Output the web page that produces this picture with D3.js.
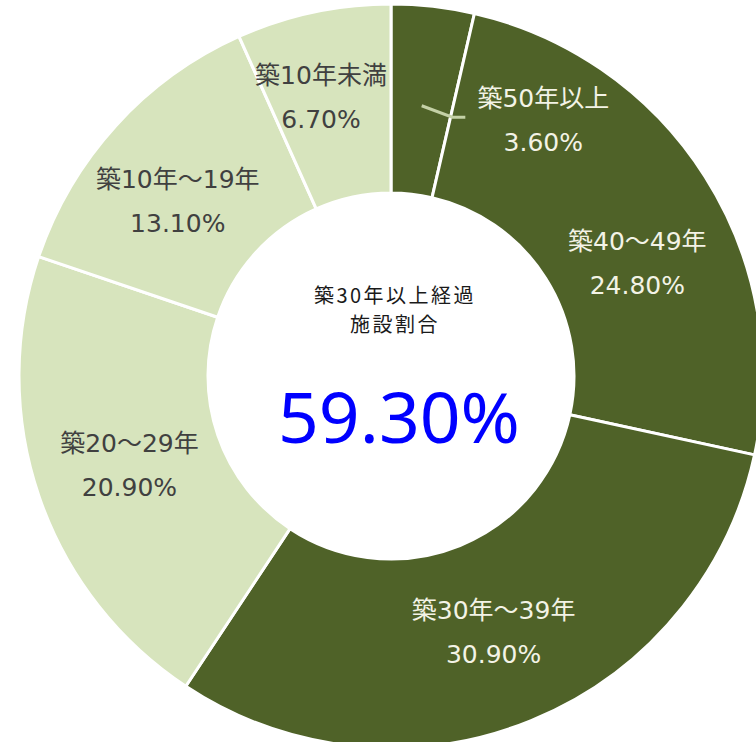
<!DOCTYPE html>
<html>
<head>
<meta charset="utf-8">
<script src="https://cdn.jsdelivr.net/npm/d3@7"></script>
<style>
  html, body { margin: 0; padding: 0; background: #fff; overflow: hidden; }
</style>
</head>
<body>
<script>
const WIDTH = 756;
const HEIGHT = 742;
const CX = 391;
const CY = 376;
const OUTER = 372;
const INNER = 183;

// data
const categories = ['築50年以上', '築40～49年', '築30年～39年', '築20～29年', '築10年～19年', '築10年未満'];
const values = [3.6, 24.8, 30.9, 20.9, 13.1, 6.7];
const groups = ['30年以上', '30年以上', '30年以上', '30年未満', '30年未満', '30年未満'];
const centerTitle = ['築30年以上経過', '施設割合'];

// label nudges from the centroid, like Excel's best-fit placement
const nudges = [[121, 20], [12, 36], [-2, -1], [1, 0], [-8, 12], [-12, -7]];

const color = d3.scaleOrdinal()
    .domain(['30年以上', '30年未満'])
    .range(['#4f6228', '#d7e4bd']);
const textColor = d3.scaleOrdinal()
    .domain(['30年以上', '30年未満'])
    .range(['#f3f3e6', '#404040']);

const rows = categories.map((c, i) => ({ name: c, value: values[i], group: groups[i], nudge: nudges[i] }));

const svg = d3.select('body')
    .append('svg')
    .attr('width', WIDTH)
    .attr('height', HEIGHT);

const g = svg.append('g')
    .attr('transform', `translate(${CX}, ${CY})`);

const pie = d3.pie()
    .sort(null)
    .value(d => d.value);

const arc = d3.arc()
    .innerRadius(INNER)
    .outerRadius(OUTER);

const arcs = pie(rows);

g.selectAll('path.slice')
    .data(arcs)
    .join('path')
    .attr('class', 'slice')
    .attr('d', arc)
    .attr('fill', d => color(d.data.group))
    .attr('stroke', '#fff')
    .attr('stroke-width', 3);

const labelFont = '"DejaVu Sans", "Noto Sans CJK JP", sans-serif';

const labels = g.selectAll('g.label')
    .data(arcs)
    .join('g')
    .attr('class', 'label')
    .attr('transform', d => {
        const [x, y] = arc.centroid(d);
        return `translate(${x + d.data.nudge[0]}, ${y + d.data.nudge[1]})`;
    });

labels.append('text')
    .attr('y', -22)
    .attr('text-anchor', 'middle')
    .attr('dominant-baseline', 'central')
    .attr('font-family', labelFont)
    .attr('font-size', 25)
    .attr('fill', d => textColor(d.data.group))
    .text(d => d.data.name);

labels.append('text')
    .attr('y', 22)
    .attr('text-anchor', 'middle')
    .attr('dominant-baseline', 'central')
    .attr('font-family', labelFont)
    .attr('font-size', 25)
    .attr('fill', d => textColor(d.data.group))
    .text(d => d.data.value.toFixed(2) + '%');

// leader line for the small slice at the top
const small = arcs[0];
const start = d3.arc().innerRadius(272).outerRadius(272).centroid(small);
const [lx, ly] = arc.centroid(small);
const endX = lx + small.data.nudge[0] - 78;
const endY = ly + small.data.nudge[1] - 3;
g.append('path')
    .attr('d', d3.line()([start, [endX - 13, endY], [endX, endY]]))
    .attr('fill', 'none')
    .attr('stroke', '#c4d1a6')
    .attr('stroke-width', 3);

// centre text
const centre = svg.append('g')
    .attr('transform', `translate(${CX}, ${CY})`);

centre.selectAll('text.title')
    .data(centerTitle)
    .join('text')
    .attr('class', 'title')
    .attr('x', 4)
    .attr('y', (d, i) => -82 + i * 29)
    .attr('text-anchor', 'middle')
    .attr('dominant-baseline', 'central')
    .attr('font-family', '"Noto Sans CJK JP", sans-serif')
    .attr('font-size', 20)
    .attr('letter-spacing', 2.5)
    .attr('fill', '#1a1a1a')
    .text(d => d);

const share = d3.sum(values.slice(0, 3));
centre.append('text')
    .attr('x', 8)
    .attr('y', 67)
    .attr('text-anchor', 'middle')
    .attr('font-family', '"Noto Sans", sans-serif')
    .attr('font-size', 70)
    .attr('textLength', 242)
    .attr('lengthAdjust', 'spacingAndGlyphs')
    .attr('fill', '#0000ff')
    .text(share.toFixed(2) + '%');
</script>
</body>
</html>
